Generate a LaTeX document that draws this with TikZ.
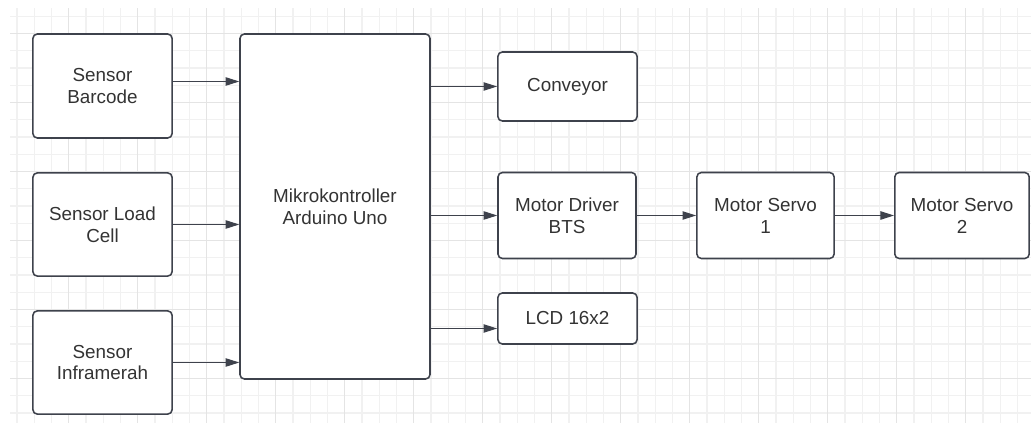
\documentclass[tikz,border=0pt]{standalone}
\usepackage{fontspec}
\setmainfont{Liberation Sans}
\usetikzlibrary{arrows.meta,calc,positioning}
\definecolor{gridminor}{RGB}{241,241,241}
\definecolor{gridmajor}{RGB}{228,228,228}
\definecolor{edgegray}{RGB}{62,66,76}
\definecolor{textgray}{RGB}{51,51,51}
\tikzset{
  >=Latex,
  flow/.style={-{Triangle[length=3.4mm,width=2.1mm]},draw=edgegray,line width=0.75pt},
  block/.style={
    draw=edgegray,
    fill=white,
    rectangle,
    rounded corners=1.1mm,
    line width=1.1pt,
    inner sep=2pt,
    align=center,
    text=textgray,
    font=\fontsize{13.4}{15.6}\selectfont
  },
  minorline/.style={draw=gridminor,line width=0.75pt},
  majorline/.style={draw=gridmajor,line width=0.75pt}
}

\begin{document}
\begin{tikzpicture}[x=1cm,y=1cm]
  \fill[white] (0,0) rectangle (25.775,10.625);
  \useasboundingbox (0,0) rectangle (25.775,10.625);

  % Background grid
  \foreach \k in {0,...,58}
    \draw[minorline] ({0.425+0.43125*\k},0.05) -- ({0.425+0.43125*\k},10.425);
  \foreach \k in {0,...,23}
    \draw[minorline] (0.25,{10.21875-0.43125*\k}) -- (25.775,{10.21875-0.43125*\k});
  \foreach \k in {0,...,13}
    \draw[majorline] ({1.71875+1.725*\k},0.05) -- ({1.71875+1.725*\k},10.425);
  \foreach \k in {0,...,5}
    \draw[majorline] (0.25,{9.7875-1.725*\k}) -- (25.775,{9.7875-1.725*\k});

  % Sensors
  \node[block,minimum width=3.48cm,minimum height=2.6cm] (barcode) at (2.5625,8.475)
    {Sensor\\Barcode};
  \node[block,minimum width=3.48cm,minimum height=2.58cm] (loadcell) at (2.5625,5.0125)
    {Sensor Load\\Cell};
  \node[block,minimum width=3.48cm,minimum height=2.58cm] (infrared) at (2.5625,1.5625)
    {Sensor\\Inframerah};

  % Microcontroller
  \node[block,minimum width=4.75cm,minimum height=8.625cm] (mcu) at (8.375,5.4625)
    {Mikrokontroller\\Arduino Uno};

  % Actuators and display
  \node[block,minimum width=3.48cm,minimum height=1.725cm] (conveyor) at (14.1875,8.4625)
    {Conveyor};
  \node[block,minimum width=3.45cm,minimum height=2.15cm] (driver) at (14.175,5.2375)
    {Motor Driver\\BTS};
  \node[block,minimum width=3.43cm,minimum height=2.15cm] (servoone) at (19.1375,5.2375)
    {Motor Servo\\1};
  \node[block,minimum width=3.36cm,minimum height=2.15cm] (servotwo) at (24.05,5.2375)
    {Motor Servo\\2};
  \node[block,minimum width=3.48cm,minimum height=1.275cm] (lcd) at (14.1875,2.6625)
    {LCD 16x2};

  % Inputs to microcontroller
  \coordinate (barcodeout) at ([yshift=1.125mm]barcode.east);
  \draw[flow] (barcodeout) -- (barcodeout -| mcu.west);
  \draw[flow] (loadcell.east) -- (loadcell.east -| mcu.west);
  \draw[flow] (infrared.east) -- (infrared.east -| mcu.west);

  % Outputs from microcontroller
  \draw[flow] (mcu.east |- conveyor.west) -- (conveyor.west);
  \draw[flow] (mcu.east |- driver.west) -- (driver.west);
  \coordinate (lcdin) at ([yshift=-2.5mm]lcd.west);
  \draw[flow] (mcu.east |- lcdin) -- (lcdin);

  % Servo chain
  \draw[flow] (driver.east) -- (servoone.west);
  \draw[flow] (servoone.east) -- (servotwo.west);
\end{tikzpicture}
\end{document}
